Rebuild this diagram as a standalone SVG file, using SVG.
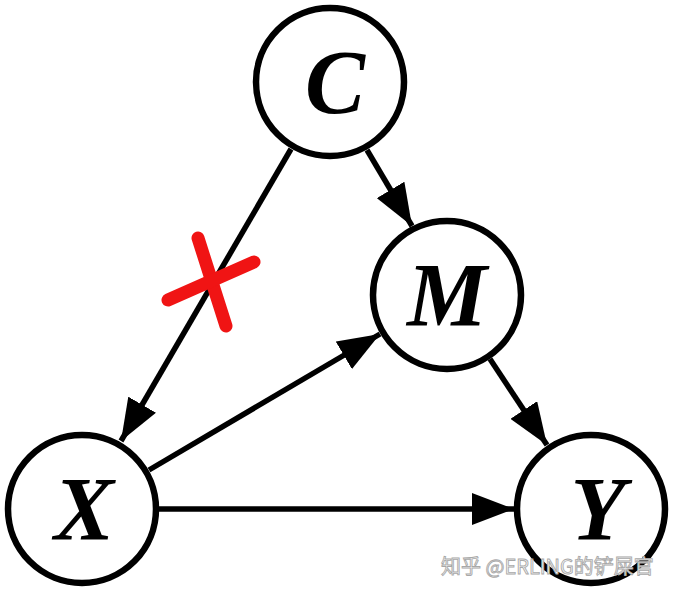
<svg xmlns="http://www.w3.org/2000/svg" width="675" height="592" viewBox="0 0 675 592">
<style>
.node{fill:#fff;stroke:#000;stroke-width:6.5}
.lbl{font-family:"Liberation Serif","Times New Roman",serif;font-weight:bold;font-style:italic;font-size:90px;fill:#000;text-anchor:middle}
.edge{stroke:#000;stroke-width:5.5;fill:none;marker-end:url(#ah)}
.cross{stroke:#f01414;stroke-width:13;stroke-linecap:round;fill:none}
.wm{font-family:"Noto Sans CJK SC","Liberation Sans",sans-serif;font-size:20px;fill:#fff;stroke:#a8a8a8;stroke-width:0.9;paint-order:fill}
</style>
<defs>
<marker id="ah" markerUnits="userSpaceOnUse" markerWidth="44" markerHeight="32" refX="42" refY="16" orient="auto">
<path d="M0,0 L42,16 L0,32 Z" fill="#000"/>
</marker>
</defs>
<g id="connectors">
<line class="edge" x1="291" y1="149" x2="121" y2="441"/>
<line class="edge" x1="367" y1="150" x2="412" y2="226"/>
<line class="edge" x1="149" y1="470" x2="380" y2="334"/>
<line class="edge" x1="490" y1="359" x2="547" y2="445"/>
<line class="edge" x1="159" y1="509" x2="514" y2="509"/>
</g>
<g id="cut">
<line class="cross" x1="198" y1="238" x2="226" y2="326"/>
<line class="cross" x1="168" y1="300" x2="254" y2="262"/>
</g>
<g id="node-C">
<circle class="node" cx="330" cy="82" r="74"/>
<text class="lbl" x="335" y="113">C</text>
</g>
<g id="node-M">
<circle class="node" cx="447" cy="295" r="74"/>
<text class="lbl" x="447" y="326">M</text>
</g>
<g id="node-X">
<circle class="node" cx="82" cy="509" r="74"/>
<text class="lbl" x="84" y="540">X</text>
</g>
<g id="node-Y">
<circle class="node" cx="591" cy="509" r="74"/>
<text class="lbl" x="598" y="540">Y</text>
</g>
<text class="wm" x="441" y="574">知乎 @ERLING的铲屎官</text>
</svg>
